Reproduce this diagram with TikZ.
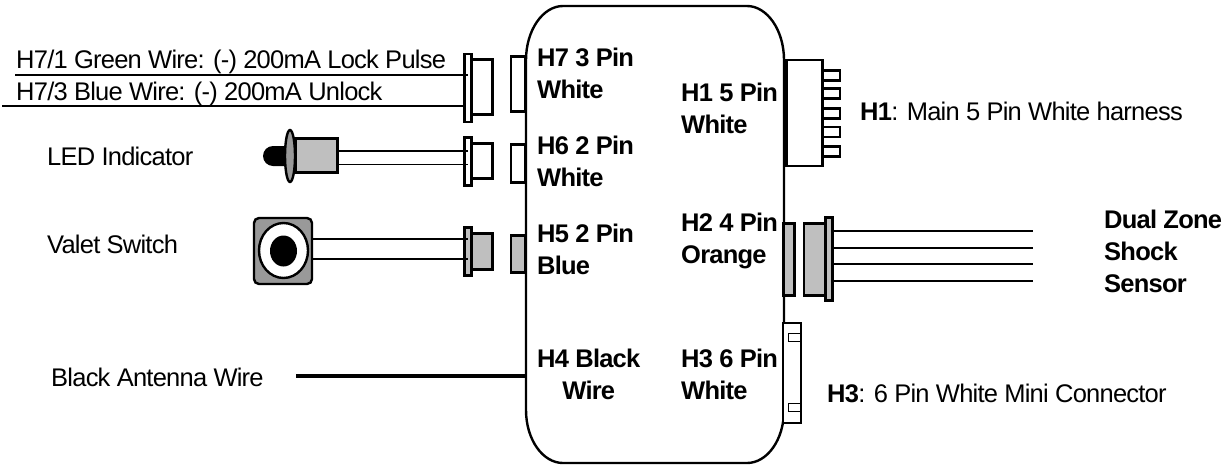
\documentclass[tikz,border=0pt]{standalone}
\usepackage{fontspec}
\setmainfont[LetterSpace=-3]{Liberation Sans}
\begin{document}
\begin{tikzpicture}[x=1pt,y=-1pt,line width=2.4pt,
    lbl/.style={inner sep=0pt,anchor=base west,font=\fontsize{25.5}{32}\selectfont},
    pinlbl/.style={inner sep=0pt,anchor=base west,align=left,font=\fontsize{25.5}{32}\selectfont\bfseries},
    wire/.style={line width=1.7pt},
    plug/.style={draw,fill=white,line width=2.4pt,inner sep=0pt},
    grayplug/.style={plug,fill=black!25}]
    \useasboundingbox (0,0) rectangle (1230,466);

    % module body
    \draw (526,60) .. controls (526,30) and (543,6) .. (563,6)
        -- (747,6) .. controls (767,6) and (784,30) .. (784,60)
        -- (784,410) .. controls (784,440) and (767,463) .. (747,463)
        -- (563,463) .. controls (543,463) and (526,440) .. (526,410) -- cycle;

    % H7 wires and plug
    \node[plug,minimum width=21pt,minimum height=55pt] (h7plug) at (482,87) {};
    \node[plug,minimum width=7pt,minimum height=68pt] (h7flange) at (468,88) {};
    \node[plug,minimum width=14pt,minimum height=55pt] (h7sock) at (518,84) {};
    \coordinate (h7a) at (15,75);
    \coordinate (h7b) at (2,106);
    \draw[wire] (h7a) -- (h7flange.center |- h7a);
    \draw[line width=2.4pt] (h7b) -- (h7flange.west |- h7b);

    % H6 LED
    \fill[rounded corners=10pt] (300,146) -- (263,146) -- (263,166) -- (300,166) -- cycle;
    \node[grayplug,minimum width=42pt,minimum height=34pt] (ledbody) at (316.5,155.5) {};
    \draw[fill=black!40] (290,156) ellipse (5pt and 26pt);
    \node[plug,minimum width=21pt,minimum height=35pt] (h6plug) at (482,161) {};
    \node[plug,minimum width=7pt,minimum height=48pt] (h6flange) at (468,161.5) {};
    \node[plug,minimum width=14pt,minimum height=38pt] (h6sock) at (518,163.5) {};
    \draw[wire] (ledbody.east |- 0,151) -- (h6flange.center |- 0,151);
    \draw[wire] (ledbody.east |- 0,164.5) -- (h6flange.center |- 0,164.5);

    % H5 switch
    \node[plug,fill=black!40,rounded corners=5pt,minimum width=58pt,minimum height=66pt] (valet) at (283,251) {};
    \draw[fill=white] (283.5,250.5) ellipse (24.5pt and 27.5pt);
    \fill (283.5,251) ellipse (13.5pt and 15.5pt);
    \node[grayplug,minimum width=21pt,minimum height=36pt] (h5plug) at (482,251.5) {};
    \node[grayplug,minimum width=7pt,minimum height=48pt] (h5flange) at (468,251.5) {};
    \node[grayplug,minimum width=14pt,minimum height=37pt] (h5sock) at (518,254) {};
    \draw[wire] (valet.east |- 0,239) -- (h5flange.center |- 0,239);
    \draw[wire] (valet.east |- 0,259) -- (h5flange.center |- 0,259);

    % H4 antenna
    \coordinate (ant) at (296,376);
    \coordinate (antend) at (526,376);
    \draw[line width=3.8pt] (ant) -- (antend);

    % H1
    \foreach \y in {75.5,93.5,113.5,132,151.5}
        \draw[fill=white] (820,\y-5) rectangle (840,\y+5);
    \node[plug,minimum width=36pt,minimum height=106pt] (h1) at (804.5,113) {};

    % H2
    \node[grayplug,minimum width=11pt,minimum height=72pt] (h2sock) at (789,259.5) {};
    \node[grayplug,minimum width=21pt,minimum height=72pt] (h2plug) at (814.5,259.5) {};
    \node[grayplug,minimum width=7pt,minimum height=83pt] (h2flange) at (829,259) {};
    \foreach \y in {231,248,264,281}
        \draw[wire] (h2flange.east |- 0,\y) -- (1033,\y);

    % H3
    \node[plug,line width=2pt,minimum width=18pt,minimum height=100pt] (h3) at (791.5,372.5) {};
    \draw[line width=1.3pt,fill=white] (800,333.5) -- (788.5,333.5) -- (788.5,341.5) -- (800,341.5);
    \draw[line width=1.3pt,fill=white] (800,403.5) -- (788.5,403.5) -- (788.5,411.5) -- (800,411.5);

    % labels
    \node[lbl] (t1) at (15,68) {H7/1 Green Wire: (-) 200mA Lock Pulse};
    \node[lbl] (t2) at (15,100) {H7/3 Blue Wire: (-) 200mA Unlock};
    \node[lbl] (t3) at (46,165) {LED Indicator};
    \node[lbl] (t4) at (46,253) {Valet Switch};
    \node[lbl] (t5) at (50,386) {Black Antenna Wire};
    \node[pinlbl] (p7) at (536,98) {H7 3 Pin\\White};
    \node[pinlbl] (p6) at (536,186) {H6 2 Pin\\White};
    \node[pinlbl] (p5) at (536,274) {H5 2 Pin\\Blue};
    \node[pinlbl,align=center] (p4) at (536,399) {H4 Black\\Wire};
    \node[pinlbl] (p1) at (680,133) {H1 5 Pin\\White};
    \node[pinlbl] (p2) at (680,263) {H2 4 Pin\\Orange};
    \node[pinlbl] (p3) at (680,399) {H3 6 Pin\\White};
    \node[lbl] (t6) at (859,120) {\textbf{H1}: Main 5 Pin White harness};
    \node[lbl] (t7) at (826,402) {\textbf{H3}: 6 Pin White Mini Connector};
    \node[pinlbl] (t8) at (1103,292) {Dual Zone\\Shock\\Sensor};
\end{tikzpicture}
\end{document}
